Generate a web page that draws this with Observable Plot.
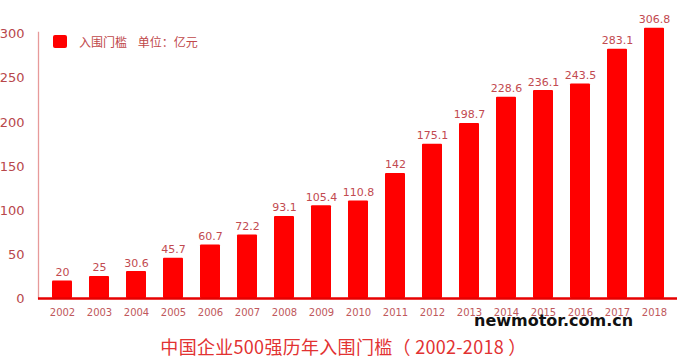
<!DOCTYPE html>
<html><head><meta charset="utf-8">
<script src="https://cdn.jsdelivr.net/npm/d3@7"></script>
<script src="https://cdn.jsdelivr.net/npm/@observablehq/plot@0.6"></script>
<style>
body{margin:0;background:#fff;}
#wrap{position:relative;width:687px;height:357px;overflow:hidden;background:#fff;}
#legend{position:absolute;left:53px;top:33px;font:12px "Noto Sans CJK SC","DejaVu Sans",sans-serif;color:#c0484a;display:flex;align-items:center;}
#legend .sw{width:14px;height:13px;background:#f00;border-radius:2px;margin-right:12px;}
#title{position:absolute;left:0;width:687px;top:337px;text-align:center;font:18px/18px "Noto Sans CJK SC",sans-serif;color:#e23232;white-space:pre;letter-spacing:0.3px;}
#mark{position:absolute;left:474px;top:311px;font:bold 16px "DejaVu Sans",sans-serif;color:#111;}
</style></head>
<body><div id="wrap"><div id="chart"></div>
<div id="legend"><span class="sw"></span><span>入围门槛&nbsp;&nbsp;&nbsp;&nbsp;单位：亿元</span></div>
<div id="mark">newmotor.com.cn</div>
<div id="title">中国企业500强历年入围门槛（ 2002-2018 ）</div>
</div>
<script>
const years = ["2002","2003","2004","2005","2006","2007","2008","2009","2010","2011","2012","2013","2014","2015","2016","2017","2018"];
const values = [20,25,30.6,45.7,60.7,72.2,93.1,105.4,110.8,142,175.1,198.7,228.6,236.1,243.5,283.1,306.8];
const yTicks = [0,50,100,150,200,250,300];
const data = years.map((y,i)=>({year:y,value:values[i]}));

const chart = Plot.plot({
  width: 687,
  height: 325,
  marginLeft: 38,
  marginRight: 10,
  marginTop: 32,
  marginBottom: 27,
  style: {fontFamily: "DejaVu Sans, sans-serif", background: "#fff"},
  x: {domain: years, paddingInner: 0.47, paddingOuter: 0.16, label: null},
  y: {domain: [0, 302], label: null},
  marks: [
    Plot.frame({anchor: "left", stroke: "#e79a9a", strokeWidth: 1.3}),
    Plot.barY(data, {x: "year", y: "value", fill: "#ff0000", rx: 1}),
    Plot.ruleY([0], {stroke: "#e60000", strokeWidth: 2.5}),
    Plot.text(data, {x: "year", y: "value", text: d => String(d.value), lineAnchor: "bottom", dy: -5, fill: "#c24a50", fontSize: 11}),
    Plot.axisY({ticks: yTicks, tickSize: 0, tickPadding: 14, fontSize: 13, fill: "#b8474b", label: null}),
    Plot.axisX({tickSize: 0, tickPadding: 10, fontSize: 10, fill: "#c0585c", label: null})
  ]
});
document.getElementById("chart").appendChild(chart);
</script>
</body></html>
